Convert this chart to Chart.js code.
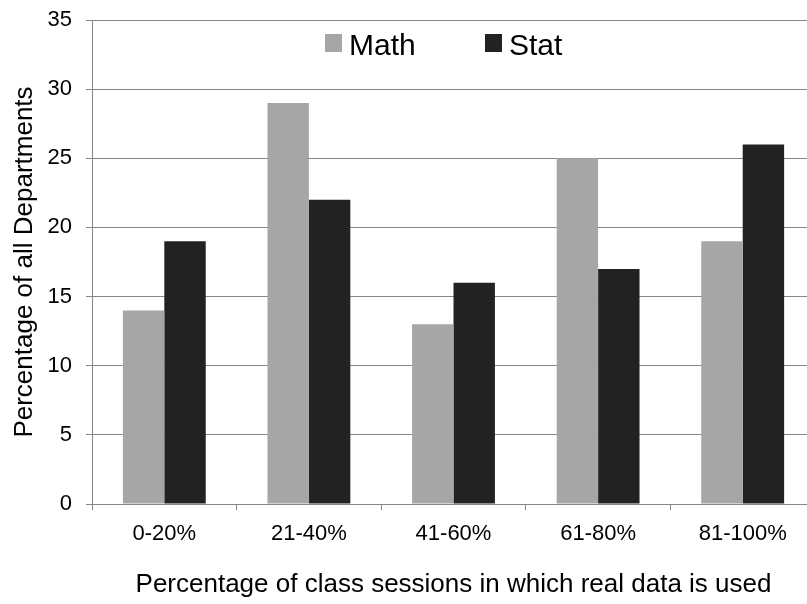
<!DOCTYPE html>
<html><head><meta charset="utf-8">
<script src="https://cdn.jsdelivr.net/npm/chart.js@4/dist/chart.umd.min.js"></script>
<style>
html,body{margin:0;padding:0;background:#fff;overflow:hidden;}
#wrap{width:815px;height:604px;position:relative;}
</style></head>
<body><div id="wrap"><canvas id="c" width="815" height="604"></canvas></div>
<script>
const categories = ["0-20%", "21-40%", "41-60%", "61-80%", "81-100%"];
const mathValues = [14, 29, 13, 25, 19];
const statValues = [19, 22, 16, 17, 26];
const seriesNames = ["Math", "Stat"];
const xTitle = "Percentage of class sessions in which real data is used";
const yTitle = "Percentage of all Departments";

const FONT = "'Liberation Sans', Arial, sans-serif";
const GRID = "#878787";

const legendPlugin = {
  id: 'inlineLegend',
  afterDraw(chart) {
    const ctx = chart.ctx;
    ctx.save();
    ctx.font = "30px " + FONT;
    ctx.textBaseline = 'alphabetic';
    const xs = [325, 485];
    chart.data.datasets.forEach((ds, i) => {
      ctx.fillStyle = ds.backgroundColor;
      ctx.fillRect(xs[i], 34, 17, 18);
      ctx.fillStyle = "#000";
      ctx.fillText(ds.label, xs[i] + 24, 55);
    });
    ctx.restore();
  }
};

new Chart(document.getElementById('c'), {
  type: 'bar',
  data: {
    labels: categories,
    datasets: [
      { label: seriesNames[0], data: mathValues, backgroundColor: "#a6a6a6", barPercentage: 1.0, categoryPercentage: 0.573 },
      { label: seriesNames[1], data: statValues, backgroundColor: "#222222", barPercentage: 1.0, categoryPercentage: 0.573 }
    ]
  },
  options: {
    responsive: false,
    animation: false,
    layout: { padding: { top: 20, right: 0, bottom: 0, left: 0 } },
    plugins: { legend: { display: false }, tooltip: { enabled: false } },
    scales: {
      x: {
        afterFit: s => { s.height = 100; },
        grid: { display: true, drawOnChartArea: false, drawTicks: true, tickLength: 6, color: GRID, offset: true },
        border: { display: true, color: GRID, width: 1 },
        ticks: { color: "#000", font: { family: FONT, size: 22 }, padding: 11, maxRotation: 0 },
        title: { display: true, text: xTitle, color: "#000", font: { family: FONT, size: 26 }, padding: { top: 10, bottom: 4 } }
      },
      y: {
        min: 0, max: 35,
        afterFit: s => { s.width = 92; s.paddingTop = 0; s.paddingBottom = 0; },
        grid: { color: GRID, tickLength: 6, drawTicks: true },
        border: { display: true, color: GRID, width: 1 },
        ticks: { stepSize: 5, color: "#000", font: { family: FONT, size: 22 }, padding: 14 },
        title: { display: true, text: yTitle, color: "#000", font: { family: FONT, size: 26 }, padding: { top: 9, bottom: 0 } }
      }
    }
  },
  plugins: [legendPlugin]
});
</script>
</body></html>
